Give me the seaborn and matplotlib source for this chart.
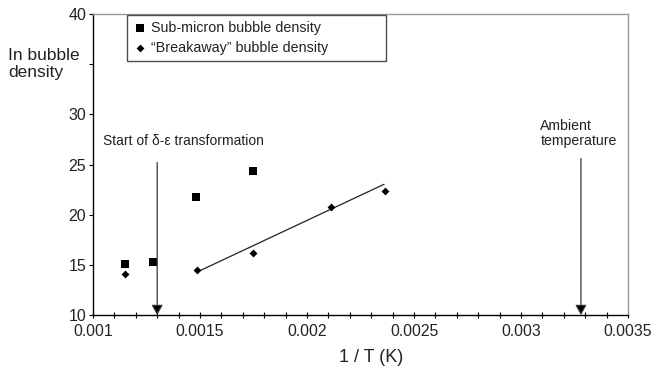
import matplotlib
matplotlib.use("Agg")
import matplotlib.pyplot as plt
import seaborn as sns
import numpy as np
import pandas as pd
from matplotlib.ticker import MultipleLocator

# Data
sub_x = [0.00115, 0.00128, 0.00148, 0.00175]
sub_y = [15.1, 15.3, 21.8, 24.4]
brk_x = [0.00115, 0.001485, 0.00175, 0.00211, 0.002366]
brk_y = [14.1, 14.5, 16.15, 20.74, 22.36]
trend_x = [0.00149, 0.00236]
trend_y = [14.32, 23.03]
x_ticks = [0.001, 0.0015, 0.002, 0.0025, 0.003, 0.0035]
x_tick_labels = ["0.001", "0.0015", "0.002", "0.0025", "0.003", "0.0035"]
y_ticks = [10, 15, 20, 25, 30, 35, 40]
y_tick_labels = ["10", "15", "20", "25", "30", "", "40"]
legend_labels = ["Sub-micron bubble density", "\u201cBreakaway\u201d bubble density"]
arrow_x = [0.0013, 0.00328]
arrow_top = [25.2, 25.6]

sns.set_theme(style="white")
plt.rcParams['font.family'] = ['Liberation Sans', 'DejaVu Sans']

fig = plt.figure(figsize=(6.59, 3.71), dpi=100)
ax = fig.add_axes([0.1411, 0.1509, 0.9530 - 0.1411, 0.9623 - 0.1509])

df_sub = pd.DataFrame({"x": sub_x, "y": sub_y})
df_brk = pd.DataFrame({"x": brk_x, "y": brk_y})
df_trend = pd.DataFrame({"x": trend_x, "y": trend_y})

sns.scatterplot(data=df_sub, x="x", y="y", ax=ax, marker="s", s=38, color="black",
                edgecolor="black", linewidth=0, label=legend_labels[0], zorder=3)
sns.scatterplot(data=df_brk, x="x", y="y", ax=ax, marker="D", s=16, color="black",
                edgecolor="black", linewidth=0, label=legend_labels[1], zorder=3)
sns.lineplot(data=df_trend, x="x", y="y", ax=ax, color="#222222", lw=0.9,
             legend=False, zorder=2)

# Arrows
for xa, yt in zip(arrow_x, arrow_top):
    ax.annotate("", xy=(xa, 10.0), xytext=(xa, yt),
                arrowprops=dict(arrowstyle="-|>,head_width=0.28,head_length=0.5",
                                color="#333333", lw=0.9, shrinkA=0, shrinkB=0,
                                fc="black"))

ax.text(0.001047, 27.35, "Start of \u03b4-\u03b5 transformation", fontsize=10,
        va="center", ha="left", color="#222222")
ax.text(0.00309, 28.1, "Ambient\ntemperature", fontsize=10.2,
        va="center", ha="left", color="#222222", linespacing=1.15)

ax.set_xlim(0.001, 0.0035)
ax.set_ylim(10, 40)
ax.set_xticks(x_ticks)
ax.set_xticklabels(x_tick_labels)
ax.set_yticks(y_ticks)
ax.set_yticklabels(y_tick_labels)
ax.xaxis.set_minor_locator(MultipleLocator(0.0001))

ax.tick_params(axis="x", which="both", direction="inout", length=5, width=0.8,
               color="black", labelsize=11.3, labelcolor="#222222", pad=4, bottom=True)
ax.tick_params(axis="y", which="major", direction="out", length=3, width=0.8,
               color="black", labelsize=11.5, labelcolor="#222222", pad=2, left=True)

ax.set_xlabel("1 / T (K)", fontsize=13, color="#222222")
ax.xaxis.set_label_coords(0.52, -0.113)
ax.set_ylabel("")
fig.text(8 / 659, 1 - 64 / 371, "In bubble\ndensity", fontsize=12.5, ha="left",
         va="center", color="#222222", linespacing=1.15)

for side in ["left", "bottom"]:
    ax.spines[side].set_color("black")
    ax.spines[side].set_linewidth(1.0)
for side in ["top", "right"]:
    ax.spines[side].set_color("#999999")
    ax.spines[side].set_linewidth(1.0)

leg = ax.legend(loc="upper left",
                bbox_to_anchor=(34 / 535, 1 - 45 / 301, (386 - 127) / 535, 44 / 301),
                mode="expand",
                frameon=True, fancybox=False, fontsize=10.3, handletextpad=0.3,
                borderpad=0.4, labelspacing=0.45, handlelength=1.0,
                borderaxespad=0)
leg.get_frame().set_edgecolor("#222222")
leg.get_frame().set_linewidth(1.0)
for t in leg.get_texts():
    t.set_color("#222222")

fig.savefig("out.png", dpi=100)
